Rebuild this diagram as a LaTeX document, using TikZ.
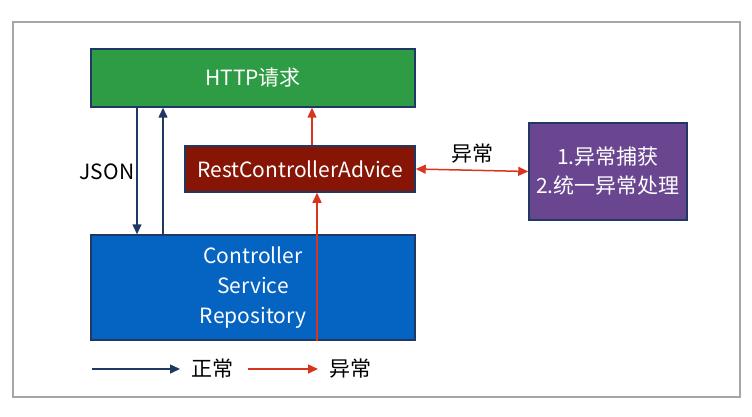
\documentclass[tikz,border=0pt]{standalone}
\usepackage{fontspec}
\setmainfont{Noto Sans CJK SC}
\usepackage{tikz}
\usetikzlibrary{arrows.meta,positioning,calc}
\usepackage{xcolor}

\definecolor{navy}{HTML}{1F3864}
\definecolor{httpgreen}{HTML}{2E9B45}
\definecolor{advred}{HTML}{861505}
\definecolor{svcblue}{HTML}{0563C1}
\definecolor{catchpurple}{HTML}{6A4690}
\definecolor{errred}{HTML}{D8351E}
\definecolor{framegray}{HTML}{A6A6A6}

\tikzset{
    box/.style={draw=navy, line width=1.5pt, text=white, align=center,
        font=\fontsize{21}{30}\selectfont, inner sep=0pt},
    navyarrow/.style={draw=navy, line width=1.5pt, -{Triangle[length=10pt,width=9pt]}},
    redarrow/.style={draw=errred, line width=1.5pt, -{Triangle[length=10pt,width=9pt]}},
    lbl/.style={font=\fontsize{21}{24}\selectfont, text=black}
}

\begin{document}
\begin{tikzpicture}[x=1pt,y=-1pt]
    \useasboundingbox (0,0) rectangle (752,417);
    % outer frame
    \draw[framegray, line width=1.5pt] (13,22) rectangle (740,397);

    % boxes
    \node[box, fill=httpgreen, minimum width=324pt, minimum height=58pt] (http) at (253,78) {HTTP请求};
    \node[box, fill=advred, minimum width=230pt, minimum height=46pt] (advice) at (300,169) {RestControllerAdvice};
    \node[box, fill=svcblue, minimum width=324pt, minimum height=105pt] (svc) at (253,287.5) {Controller\\Service\\Repository};
    \node[box, fill=catchpurple, minimum width=158pt, minimum height=97pt, font=\fontsize{21}{29}\selectfont] (catch) at (608,171.5) {1.异常捕获\\2.统一异常处理};

    % normal flow
    \draw[navyarrow] ([xshift=-116pt]http.south) -- ([xshift=-116pt]svc.north);
    \draw[navyarrow] ([xshift=-90pt]svc.north) -- ([xshift=-90pt]http.south);
    \node[lbl] (json) at (107,172) {JSON};

    % exception flow
    \draw[redarrow] ([xshift=64pt]svc.south) -- ([xshift=64pt]svc.south |- advice.south);
    \draw[redarrow] ([xshift=12pt]advice.north) -- ([xshift=12pt]advice.north |- http.south);
    \draw[redarrow, {Triangle[length=10pt,width=9pt]}-{Triangle[length=10pt,width=9pt]}] (advice.east) -- node[lbl, above=3pt] (exlbl) {异常} (catch.west);

    % legend
    \coordinate (n1) at (92,369);
    \coordinate (n2) at (180,369);
    \coordinate (e1) at (248,369);
    \coordinate (e2) at (318,369);
    \draw[navyarrow] (n1) -- (n2);
    \node[lbl, right=8pt of n2] (normal) {正常};
    \draw[redarrow] (e1) -- (e2);
    \node[lbl, right=8pt of e2] (error) {异常};
\end{tikzpicture}
\end{document}
